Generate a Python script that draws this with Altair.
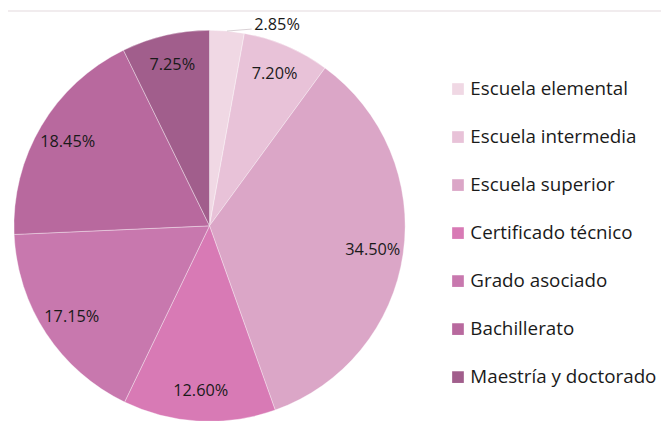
import altair as alt
import pandas as pd

categories = ["Escuela elemental", "Escuela intermedia", "Escuela superior",
              "Certificado técnico", "Grado asociado", "Bachillerato",
              "Maestría y doctorado"]
values = [2.85, 7.20, 34.50, 12.60, 17.15, 18.45, 7.25]
labels = ["2.85%", "7.20%", "34.50%", "12.60%", "17.15%", "18.45%", "7.25%"]
colors = ["#F0D8E4", "#E8C2D8", "#DBA6C7", "#D87AB5", "#C878AE", "#B8699E", "#A15E8C"]

df = pd.DataFrame({"cat": categories, "value": values, "label": labels,
                   "idx": list(range(len(categories)))})

CX, CY, R = 204, 218, 198
W, H = 661, 413

base = alt.Chart(df).encode(
    theta=alt.Theta("value:Q", stack=True),
    order=alt.Order("idx:Q"),
)

color_scale = alt.Scale(domain=categories, range=colors)

pie = base.mark_arc(outerRadius=R, stroke="#FFFFFF", strokeWidth=0.6, strokeOpacity=0.6).encode(
    x=alt.value(CX), y=alt.value(CY),
    color=alt.Color("cat:N", scale=color_scale, sort=categories,
                    legend=alt.Legend(title=None, orient="none", legendX=446, legendY=70,
                                      symbolType="square", symbolSize=140,
                                      symbolStrokeWidth=0,
                                      labelFont="Open Sans", labelFontSize=19,
                                      labelColor="#1A1A1A", rowPadding=28.6,
                                      labelOffset=3, labelLimit=400)),
)

inner_text = base.transform_calculate(
    t="datum.value >= 5 ? datum.label : ''"
).mark_text(
    radius=167, font="Open Sans", fontSize=16.5, color="#1A1A1A"
).encode(x=alt.value(CX), y=alt.value(CY), text="t:N")

outer_text = base.transform_calculate(
    t="datum.value < 5 ? datum.label : ''"
).mark_text(
    radius=205, font="Open Sans", fontSize=16.5, color="#1A1A1A", dx=50, dy=1
).encode(x=alt.value(CX), y=alt.value(CY), text="t:N")

# leader line for the small slice, computed from its angle
leader = alt.Chart(df).transform_window(
    cum="sum(value)", sort=[alt.SortField("idx")], frame=[None, 0]
).transform_filter("datum.value < 5").transform_calculate(
    ang="(datum.cum - datum.value/2) / 100 * 2 * PI",
    x1=f"{CX} + {R} * sin(datum.ang)",
    y1=f"{CY} - {R} * cos(datum.ang)",
    x2=f"{CX} + {R} * sin(datum.ang) + 25",
    y2=f"{CY} - {R} * cos(datum.ang) - 2",
).mark_rule(color="#D8D0D4", strokeWidth=1).encode(
    x=alt.X("x1:Q", scale=None), y=alt.Y("y1:Q", scale=None),
    x2="x2:Q", y2="y2:Q",
)

top_rule = alt.Chart(df.head(1)).mark_rule(color="#ECE6E9", strokeWidth=1.5).encode(
    x=alt.value(0), x2=alt.value(W), y=alt.value(0.5)
)

chart = alt.layer(top_rule, pie, leader, inner_text, outer_text).properties(
    width=W, height=H, autosize=alt.AutoSizeParams(type="none"), padding=0,
    background="#FFFFFF"
).configure_view(strokeWidth=0, stroke="transparent")

chart.save("out.html", embed_options={"renderer": "svg", "actions": False})
